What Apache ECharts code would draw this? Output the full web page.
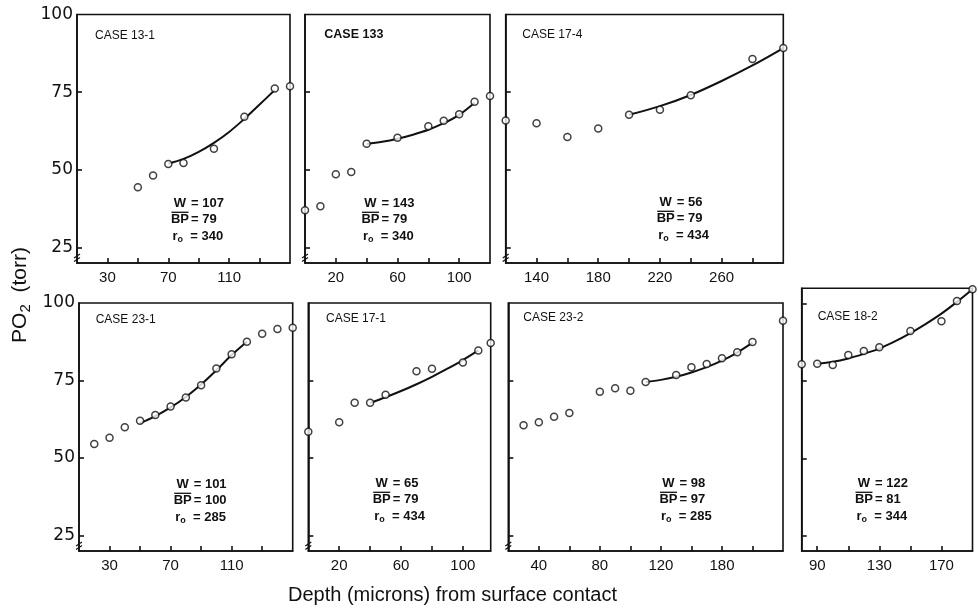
<!DOCTYPE html>
<html><head><meta charset="utf-8">
<script src="https://cdn.jsdelivr.net/npm/echarts@6/dist/echarts.min.js"></script>
<style>html,body{margin:0;padding:0;background:#fff}#c{width:978px;height:611px}</style>
</head><body><div id="c"></div>
<script>
// ---------------- DATA ----------------
// CASE 13-1
const case13_1_depth = [50, 60, 70, 80, 100, 120, 140, 150];
const case13_1_po2   = [44.4, 48.2, 51.9, 52.2, 56.8, 67.1, 76.2, 76.9];
const case13_1_fitDepth = [70, 80, 90, 100, 110, 120, 130, 140];
const case13_1_fitPo2   = [52, 53.5, 55.8, 58.7, 62.2, 66.4, 71, 75.7];
// CASE 133
const case133_depth = [0, 10, 20, 30, 40, 60, 80, 90, 100, 110, 120];
const case133_po2   = [37, 38.3, 48.6, 49.3, 58.4, 60.3, 64, 65.8, 67.9, 71.9, 73.8];
const case133_fitDepth = [40, 50, 60, 70, 80, 90, 100, 110];
const case133_fitPo2   = [58.3, 59, 60, 61.3, 62.9, 65, 67.7, 71.6];
// CASE 17-4
const case17_4_depth = [120, 140, 160, 180, 200, 220, 240, 280, 300];
const case17_4_po2   = [65.9, 65, 60.6, 63.3, 67.7, 69.3, 74, 85.7, 89.2];
const case17_4_fitDepth = [200, 220, 240, 260, 280, 300];
const case17_4_fitPo2   = [67.7, 70.5, 74.1, 78.6, 83.6, 89.2];
// CASE 23-1
const case23_1_depth = [20, 30, 40, 50, 60, 70, 80, 90, 100, 110, 120, 130, 140, 150];
const case23_1_po2   = [54.5, 56.5, 59.9, 62, 63.9, 66.6, 69.5, 73.5, 78.9, 83.5, 87.5, 90.1, 91.6, 92];
const case23_1_fitDepth = [50, 60, 70, 80, 90, 100, 110, 120];
const case23_1_fitPo2   = [61.2, 63.5, 66.3, 69.7, 73.7, 78.3, 83.2, 87.5];
// CASE 17-1
const case17_1_depth = [0, 20, 30, 40, 50, 70, 80, 100, 110, 118];
const case17_1_po2   = [58.5, 61.5, 67.8, 67.8, 70.4, 78, 78.8, 80.8, 84.7, 87.1];
const case17_1_fitDepth = [40, 50, 60, 70, 80, 90, 100, 110];
const case17_1_fitPo2   = [67.8, 69.6, 71.6, 73.8, 76.2, 78.8, 81.6, 84.7];
// CASE 23-2
const case23_2_depth = [30, 40, 50, 60, 80, 90, 100, 110, 130, 140, 150, 160, 170, 180, 200];
const case23_2_po2   = [60.6, 61.5, 63.3, 64.5, 71.4, 72.5, 71.7, 74.5, 76.8, 79.3, 80.3, 82.2, 84.1, 87.4, 94.3];
const case23_2_fitDepth = [110, 120, 130, 140, 150, 160, 170, 180];
const case23_2_fitPo2   = [74.5, 75.2, 76.2, 77.6, 79.3, 81.4, 84, 87.2];
// CASE 18-2
const case18_2_depth = [80, 90, 100, 110, 120, 130, 150, 170, 180, 190];
const case18_2_po2   = [80.4, 80.6, 80.2, 83.4, 84.7, 85.9, 91.2, 94.3, 100.9, 104.7];
const case18_2_fitDepth = [90, 100, 110, 120, 130, 140, 150, 160, 170, 180, 190];
const case18_2_fitPo2   = [80.6, 81.2, 82.3, 83.8, 85.5, 87.8, 90.5, 93.5, 96.8, 100.6, 104.7];

const caseNames = ['CASE 13-1', 'CASE 133', 'CASE 17-4', 'CASE 23-1', 'CASE 17-1', 'CASE 23-2', 'CASE 18-2'];
const wValues  = [107, 143, 56, 101, 65, 98, 122];
const bpValues = [79, 79, 79, 100, 79, 97, 81];
const r0Values = [340, 340, 434, 285, 434, 285, 344];

const xMins = [10, 0, 120, 10, 0, 20, 80];
const xMaxs = [150, 120, 300, 150, 118, 200, 190];
const yMin = 20;
const yMaxs = [100, 100, 100, 100, 100, 100, 105];
const xTickValues = [
  [30, 50, 70, 90, 110, 130], [20, 40, 60, 80, 100], [140, 160, 180, 200, 220, 240, 260, 280],
  [30, 50, 70, 90, 110, 130], [20, 40, 60, 80, 100], [40, 60, 80, 100, 120, 140, 160, 180], [90, 110, 130, 150, 170]
];
const xLabelValues = [
  [30, 70, 110], [20, 60, 100], [140, 180, 220, 260],
  [30, 70, 110], [20, 60, 100], [40, 80, 120, 160], [90, 130, 170]
];
const xLabelTexts = [
  ['30', '70', '110'], ['20', '60', '100'], ['140', '180', '220', '260'],
  ['30', '70', '110'], ['20', '60', '100'], ['40', '80', '120', '180'], ['90', '130', '170']
];
const yTickValues = [25, 50, 75];
const yTickValuesTall = [25, 50, 75, 100];
const yLabelValues = [25, 50, 75, 100];

const seriesDepth = [case13_1_depth, case133_depth, case17_4_depth, case23_1_depth, case17_1_depth, case23_2_depth, case18_2_depth];
const seriesPo2 = [case13_1_po2, case133_po2, case17_4_po2, case23_1_po2, case17_1_po2, case23_2_po2, case18_2_po2];
const fitDepth = [case13_1_fitDepth, case133_fitDepth, case17_4_fitDepth, case23_1_fitDepth, case17_1_fitDepth, case23_2_fitDepth, case18_2_fitDepth];
const fitPo2 = [case13_1_fitPo2, case133_fitPo2, case17_4_fitPo2, case23_1_fitPo2, case17_1_fitPo2, case23_2_fitPo2, case18_2_fitPo2];

// ---------------- LAYOUT ----------------
const layout = [
  {left: 77, top: 14.5, width: 213, height: 248.5},
  {left: 305, top: 14.5, width: 185, height: 248.5},
  {left: 505.7, top: 14.5, width: 277.6, height: 248.5},
  {left: 79, top: 303, width: 213.7, height: 248},
  {left: 308.3, top: 303, width: 182.4, height: 248},
  {left: 508.3, top: 303, width: 274.7, height: 248},
  {left: 801.7, top: 288.3, width: 170.8, height: 262.7}
];
const casePos = [[95, 35.7], [324.3, 34.3], [522.3, 34.3], [95.7, 319.3], [326, 318.3], [523.3, 317.7], [817.7, 316.7]];
const notePos = [[180, 203], [370.5, 203], [665.7, 202], [182.7, 484], [381.7, 483], [668.5, 483], [864, 483]];
const showYLabels = [true, false, false, true, false, false, false];
const hasBreak = [true, true, true, true, true, true, false];

const FONT = "'Liberation Sans', Arial, Helvetica, sans-serif";
const INK = '#111';

const chart = echarts.init(document.getElementById('c'), null, {renderer: 'canvas'});

const grids = [], xAxes = [], yAxes = [], series = [];
for (let i = 0; i < 7; i++) {
  grids.push(Object.assign({show: true, borderColor: INK, borderWidth: 1.6, backgroundColor: 'transparent'}, layout[i]));
  xAxes.push({
    gridIndex: i, type: 'value', min: xMins[i], max: xMaxs[i],
    axisLine: {show: true, onZero: false, lineStyle: {color: INK, width: 1.6}},
    axisTick: {show: true, inside: true, length: 5, customValues: xTickValues[i], lineStyle: {color: INK, width: 1.6}},
    axisLabel: {show: true, customValues: xLabelValues[i], color: INK, fontSize: 15, fontFamily: FONT, margin: 7,
      formatter: (v) => { const k = xLabelValues[i].indexOf(v); return k >= 0 ? xLabelTexts[i][k] : ''; }},
    splitLine: {show: false}
  });
  yAxes.push({
    gridIndex: i, type: 'value', min: yMin, max: yMaxs[i],
    axisLine: {show: true, onZero: false, lineStyle: {color: INK, width: 1.6}},
    axisTick: {show: true, inside: true, length: 5, customValues: i === 6 ? yTickValuesTall : yTickValues, lineStyle: {color: INK, width: 1.6}},
    axisLabel: {show: showYLabels[i], customValues: yLabelValues, color: INK, fontSize: 17, fontFamily: "'DejaVu Sans', sans-serif", margin: 4},
    splitLine: {show: false}
  });
  series.push({
    type: 'line', xAxisIndex: i, yAxisIndex: i, smooth: 0.35, symbol: 'none', z: 2,
    lineStyle: {color: INK, width: 2},
    data: fitDepth[i].map((d, k) => [d, fitPo2[i][k]])
  });
  series.push({
    type: 'scatter', xAxisIndex: i, yAxisIndex: i, symbol: 'circle', symbolSize: 7, z: 3, clip: false,
    itemStyle: {color: '#fff', borderColor: INK, borderWidth: 1.5},
    data: seriesDepth[i].map((d, k) => [d, seriesPo2[i][k]])
  });
}

chart.setOption({
  animation: false,
  backgroundColor: '#fff',
  grid: grids, xAxis: xAxes, yAxis: yAxes, series: series
});

// ---------------- TEXT / DECORATIONS ----------------
const graphics = [];
const noteRich = {
  k: {width: 22, align: 'center', fontSize: 13, fontWeight: 'bold', fontFamily: FONT, fill: INK, lineHeight: 16},
  kr: {fontSize: 13, fontWeight: 'bold', fontFamily: FONT, fill: INK, lineHeight: 16},
  s: {fontSize: 9, fontWeight: 'bold', fontFamily: FONT, fill: INK, verticalAlign: 'bottom', lineHeight: 16},
  v: {fontSize: 13, fontWeight: 'bold', fontFamily: FONT, fill: INK, lineHeight: 16}
};
for (let i = 0; i < 7; i++) {
  graphics.push({type: 'text', x: casePos[i][0], y: casePos[i][1], z: 10,
    style: {text: caseNames[i], fill: INK, fontSize: i === 1 ? 12.5 : 12, fontWeight: i === 1 ? 'bold' : 'normal', fontFamily: FONT, align: 'left', verticalAlign: 'middle'}});
  const cx = notePos[i][0], cy = notePos[i][1];
  graphics.push({type: 'text', x: cx - 11, y: cy, z: 10,
    style: {text: '{k|W}{v|= ' + wValues[i] + '}', rich: noteRich, align: 'left', verticalAlign: 'middle'}});
  graphics.push({type: 'text', x: cx - 11, y: cy + 16.5, z: 10,
    style: {text: '{k|BP}{v|= ' + bpValues[i] + '}', rich: noteRich, align: 'left', verticalAlign: 'middle'}});
  graphics.push({type: 'line', z: 10, shape: {x1: cx - 8.5, y1: cy + 9.3, x2: cx + 8.5, y2: cy + 9.3}, style: {stroke: INK, lineWidth: 1.3}});
  graphics.push({type: 'text', x: cx - 7.5, y: cy + 33, z: 10,
    style: {text: '{kr|r}{s|o}{v|  = ' + r0Values[i] + '}', rich: noteRich, align: 'left', verticalAlign: 'middle'}});
  if (hasBreak[i]) {
    const p = chart.convertToPixel({xAxisIndex: i, yAxisIndex: i}, [xMins[i], yMin]);
    graphics.push({type: 'line', z: 10, shape: {x1: p[0] - 3, y1: p[1] - 5, x2: p[0] + 3, y2: p[1] - 9}, style: {stroke: INK, lineWidth: 1.2}});
    graphics.push({type: 'line', z: 10, shape: {x1: p[0] - 3, y1: p[1] - 1.5, x2: p[0] + 3, y2: p[1] - 5.5}, style: {stroke: INK, lineWidth: 1.2}});
  }
}
// axis titles
graphics.push({type: 'text', x: 20, y: 295, rotation: Math.PI / 2, z: 10,
  style: {text: '{a|PO}{b|2}{a|  (torr)}', align: 'center', verticalAlign: 'middle',
    rich: {a: {fontSize: 21, fontFamily: FONT, fill: INK, lineHeight: 26}, b: {fontSize: 15, fontFamily: FONT, fill: INK, verticalAlign: 'bottom', lineHeight: 26}}}});
graphics.push({type: 'text', x: 452.5, y: 595, z: 10,
  style: {text: 'Depth (microns) from surface contact', fill: INK, fontSize: 20, fontFamily: FONT, align: 'center', verticalAlign: 'middle'}});

chart.setOption({graphic: graphics});
</script></body></html>
